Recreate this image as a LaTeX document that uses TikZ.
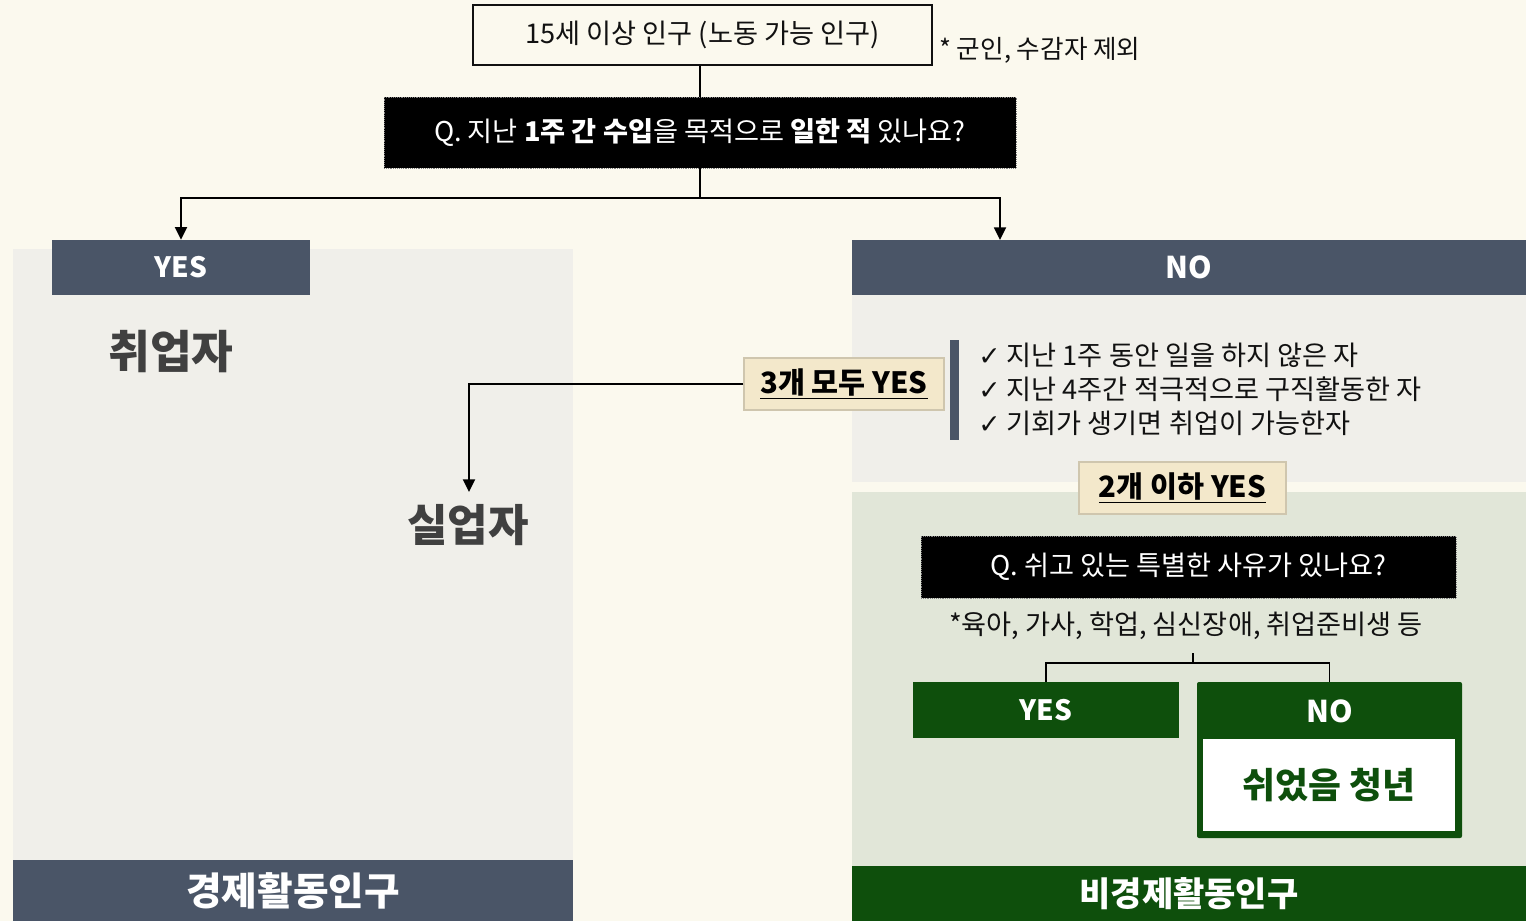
\documentclass[tikz,border=0pt]{standalone}
\usepackage{fontspec}
\setmainfont{Noto Sans CJK KR}
\newfontfamily\symfont{DejaVu Sans}
\usetikzlibrary{arrows.meta}
\definecolor{bgc}{HTML}{FBF9EE}
\definecolor{panelc}{HTML}{F0EFEA}
\definecolor{slatec}{HTML}{4A5567}
\definecolor{gpanelc}{HTML}{E1E6D8}
\definecolor{dgreen}{HTML}{0E4F0C}
\definecolor{creamc}{HTML}{F3E8CB}
\definecolor{creamb}{HTML}{CFC6AE}
\definecolor{txtc}{HTML}{111111}
\definecolor{bigtxt}{HTML}{404040}
\tikzset{
  wh/.style 2 args={minimum width=#1*0.75pt, minimum height=#2*0.75pt, inner sep=0pt},
  conn/.style={line width=1.4pt, draw=black},
  arr/.style={conn, -{Triangle[length=9.5pt,width=9pt]}},
  hdr/.style={fill=slatec, text=white, font=\fontsize{22.5pt}{26pt}\selectfont\bfseries},
  ghdr/.style={fill=dgreen, text=white, font=\fontsize{22.5pt}{26pt}\selectfont\bfseries},
  qbox/.style={fill=black, draw=gray, densely dotted, text=white, font=\fontsize{20.4pt}{24pt}\selectfont},
  tag/.style={fill=creamc, draw=creamb, line width=1pt, text=black, font=\fontsize{22pt}{25pt}\selectfont\bfseries},
  bigword/.style={text=bigtxt, font=\fontsize{34pt}{38pt}\selectfont\bfseries, inner sep=0pt},
  plain/.style={text=txtc, font=\fontsize{20.4pt}{24pt}\selectfont, inner sep=0pt},
}
\newcommand{\chk}{{\symfont\fontsize{20pt}{24pt}\selectfont ✓}}
\begin{document}
\begin{tikzpicture}[x=0.75pt,y=-0.75pt]
\useasboundingbox (0,0) rectangle (1526,921);
% backgrounds
\fill[bgc] (0,0) rectangle (1526,921);
\fill[panelc] (13,249) rectangle (573,860);
\fill[panelc] (852,295) rectangle (1526,482);
\fill[gpanelc] (852,492) rectangle (1526,866);

% top
\node[wh={459}{60}, draw=txtc, line width=1.3pt, plain] (top) at (702.5,35) {15세 이상 인구 (노동 가능 인구)};
\node[plain, font=\fontsize{19.2pt}{22pt}\selectfont, anchor=west, text=txtc] (excl) at (939,50) {* 군인, 수감자 제외};
\node[wh={632}{71}, qbox] (q1) at (700,132.5) {Q. 지난 \textbf{1주 간 수입}을 목적으로 \textbf{일한 적} 있나요?};

% headers
\node[wh={258}{55}, hdr, font=\fontsize{21pt}{25pt}\selectfont\bfseries] (yeshdr) at (181,267.5) {YES};
\node[wh={674}{55}, hdr] (nohdr) at (1189,267.5) {NO};

\coordinate (split) at (700,198);
\coordinate (noin) at (1000,240);
\draw[conn] (top.south -| q1.north) -- (q1.north);
\draw[conn] (q1.south) -- (split);
\draw[arr] (split) -| (yeshdr.north);
\draw[arr] (split) -| (noin);

% left side
\node[bigword] (emp) at (171,352) {취업자};
\node[bigword, font=\fontsize{33pt}{37pt}\selectfont\bfseries] (unemp) at (468,525) {실업자};
\node[wh={560}{61}, hdr, font=\fontsize{29pt}{33pt}\selectfont\bfseries] (ecobar) at (293,890.5) {경제활동인구};

% criteria
\node[wh={200}{52}, tag] (all3) at (844,384) {\underline{3개 모두 YES}};
\fill[slatec] (950,340) rectangle (959,440);
\node[plain, anchor=west, align=left, font=\fontsize{20.4pt}{25.5pt}\selectfont] (crit) at (978,389)
  {\chk\ 지난 1주 동안 일을 하지 않은 자\\
   \chk\ 지난 4주간 적극적으로 구직활동한 자\\
   \chk\ 기회가 생기면 취업이 가능한자};
\coordinate (unin) at (469,492);
\draw[arr] (all3.west) -| (unin);
\node[wh={207}{52}, tag] (le2) at (1182.5,488) {\underline{2개 이하 YES}};

% second question
\node[wh={535}{62}, qbox] (q2) at (1188.5,567) {Q. 쉬고 있는 특별한 사유가 있나요?};
\node[plain] (note2) at (1186,626) {*육아, 가사, 학업, 심신장애, 취업준비생 등};
\node[wh={266}{56}, ghdr, font=\fontsize{21pt}{25pt}\selectfont\bfseries] (gyes) at (1046,710) {YES};
\node[wh={265}{156}, fill=dgreen, rounded corners=1.5pt] (gno) at (1329.5,760) {};
\node[text=white, font=\fontsize{22.5pt}{26pt}\selectfont\bfseries] (notxt) at (1330,711) {NO};
\node[wh={252}{92}, fill=white, text=dgreen, font=\fontsize{26.8pt}{30pt}\selectfont\bfseries] (rest) at (1329,785) {쉬었음 청년};
\coordinate (b0) at (1193,653);
\coordinate (b1) at (1193,663);
\draw[conn] (b0) -- (b1);
\draw[conn] (b1) -| (gyes.north);
\draw[conn] (b1) -| (gno.north);
\node[wh={674}{55}, ghdr, font=\fontsize{25.5pt}{29pt}\selectfont\bfseries] (necobar) at (1189,893.5) {비경제활동인구};
\end{tikzpicture}
\end{document}
